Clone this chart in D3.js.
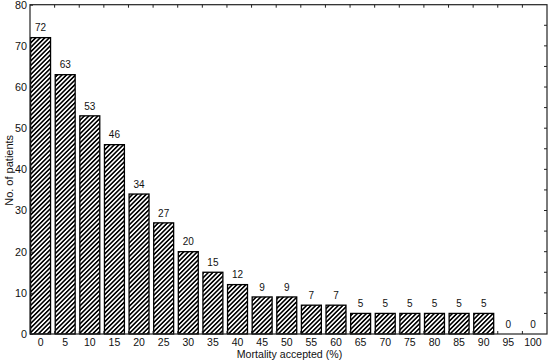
<!DOCTYPE html>
<html><head><meta charset="utf-8">
<script src="https://cdn.jsdelivr.net/npm/d3@7"></script>
<style>body{margin:0;background:#fff}svg{display:block}text{font-family:"Liberation Sans",Arial,sans-serif;fill:#111}</style>
</head><body><svg id="c" width="550" height="361"></svg>
<script>
const categories = ["0","5","10","15","20","25","30","35","40","45","50","55","60","65","70","75","80","85","90","95","100"];
const values = [72,63,53,46,34,27,20,15,12,9,9,7,7,5,5,5,5,5,5,0,0];
const yTicks = [0,10,20,30,40,50,60,70,80];
const xTitle = "Mortality accepted (%)";
const yTitle = "No. of patients";

const svg = d3.select("#c");
const m = {l:30, r:3, t:4.7, b:27};
const W = 550, H = 361;
const x = d3.scaleBand().domain(categories).range([m.l, W - m.r]).padding(0);
const y = d3.scaleLinear().domain([0, 80]).range([H - m.b, m.t]);
const bw = x.bandwidth() * 0.81;

const defs = svg.append("defs");
const pat = defs.append("pattern").attr("id","hatch").attr("patternUnits","userSpaceOnUse")
  .attr("width",3.2).attr("height",3.2).attr("patternTransform","rotate(45)");
pat.append("rect").attr("width",3.2).attr("height",3.2).attr("fill","#fff");
pat.append("rect").attr("width",1.6).attr("height",3.2).attr("fill","#000");

const data = categories.map((c,i)=>({c,v:values[i]}));

// bars
svg.append("g").selectAll("rect").data(data).join("rect")
  .attr("x", d => x(d.c) + 0.6)
  .attr("y", d => y(d.v))
  .attr("width", bw)
  .attr("height", d => y(0) - y(d.v))
  .attr("fill","url(#hatch)")
  .attr("stroke","#000").attr("stroke-width",1.3)
  .style("display", d => d.v > 0 ? null : "none");

// value labels
svg.append("g").selectAll("text").data(data).join("text")
  .attr("x", d => x(d.c) + 0.6 + bw/2)
  .attr("y", d => y(d.v) - 6.2)
  .attr("text-anchor","middle").attr("font-size",10)
  .text(d => d.v);

// frame
svg.append("rect").attr("x",m.l).attr("y",m.t).attr("width",W-m.r-m.l).attr("height",y(0)-m.t)
  .attr("fill","none").attr("stroke","#222").attr("stroke-width",1.2);

// band boundary ticks (top & bottom, inward)
const bounds = categories.slice(1).map(c => x(c));
const tk = svg.append("g").attr("stroke","#222").attr("stroke-width",1);
bounds.forEach(b => {
  tk.append("line").attr("x1",b).attr("x2",b).attr("y1",m.t).attr("y2",m.t+3);
  tk.append("line").attr("x1",b).attr("x2",b).attr("y1",y(0)).attr("y2",y(0)-3);
});
// right ticks inward
d3.range(5,80,5).forEach(v => {
  tk.append("line").attr("x1",W-m.r).attr("x2",W-m.r-3).attr("y1",y(v)).attr("y2",y(v));
});

// y axis
const ya = svg.append("g").attr("transform",`translate(${m.l},0)`)
  .call(d3.axisLeft(y).tickValues(yTicks).tickSize(-3).tickPadding(3).tickFormat(d3.format("d")));
ya.select(".domain").remove();
ya.selectAll("text").attr("font-size",10.8).style("font-family",'"Liberation Sans",Arial,sans-serif').attr("fill","#111");
ya.selectAll("line").attr("stroke","#222");

// x labels
const xa = svg.append("g").attr("transform",`translate(0,${y(0)})`);
xa.selectAll("text").data(categories).join("text")
  .attr("x", c => x(c) + 0.6 + bw/2).attr("y", 11.8)
  .attr("text-anchor","middle").attr("font-size",10.5).text(c => c);

svg.append("text").attr("x",(m.l + W - m.r)/2 + 1).attr("y",357.5).attr("text-anchor","middle")
  .attr("font-size",10.6).text(xTitle);
svg.append("text").attr("transform",`translate(12.5,${(m.t+y(0))/2 + 1}) rotate(-90)`)
  .attr("text-anchor","middle").attr("font-size",11).text(yTitle);
</script></body></html>
